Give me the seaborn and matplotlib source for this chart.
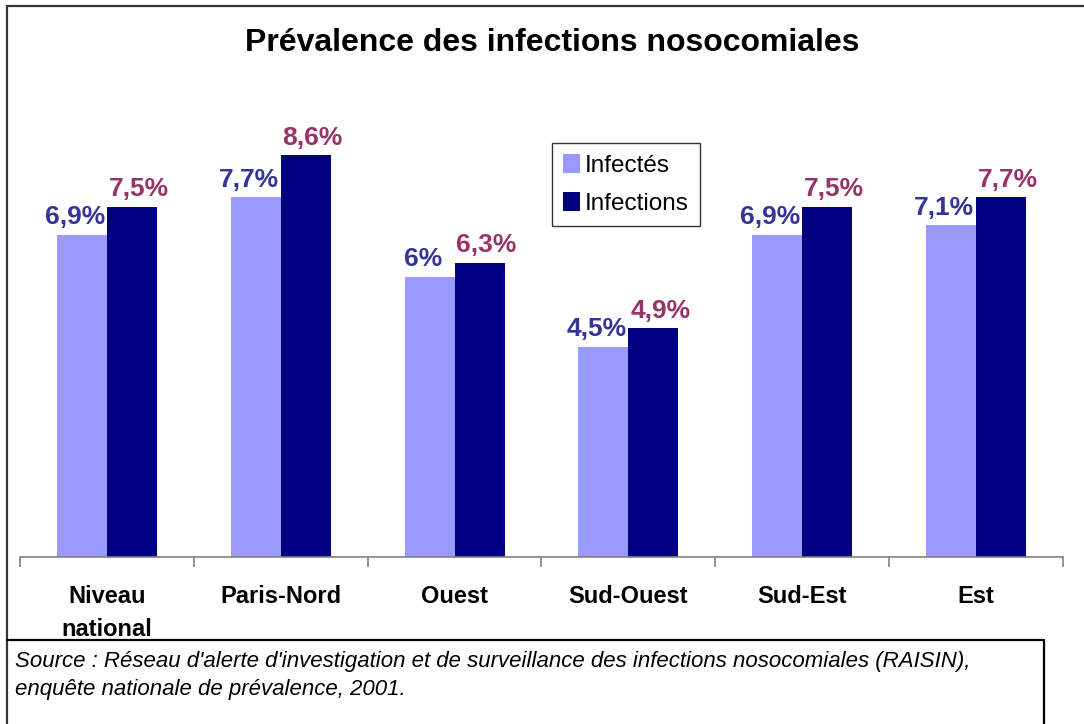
import pandas as pd
import seaborn as sns
import matplotlib.pyplot as plt
from matplotlib.lines import Line2D

regions = ["Niveau\nnational", "Paris-Nord", "Ouest", "Sud-Ouest", "Sud-Est", "Est"]
infectes = [6.9, 7.7, 6.0, 4.5, 6.9, 7.1]
infections = [7.5, 8.6, 6.3, 4.9, 7.5, 7.7]
series = ["Infectés", "Infections"]

bar_colors = {"Infectés": "#9999FF", "Infections": "#000080"}
label_colors = ["#333399", "#993366"]

df = pd.DataFrame({
    "region": regions * 2,
    "serie": [series[0]] * len(regions) + [series[1]] * len(regions),
    "valeur": infectes + infections,
})

sns.set_style("white")
plt.rcParams["font.family"] = ["Liberation Sans", "DejaVu Sans"]
plt.rcParams["text.color"] = "black"
plt.rcParams["xtick.color"] = "black"

fig = plt.figure(figsize=(10.84, 7.24), dpi=100)
ax = fig.add_axes([20 / 1084, 1 - 557 / 724, 1043 / 1084, 467 / 724])

sns.barplot(data=df, x="region", y="valeur", hue="serie", palette=bar_colors,
            width=0.575, gap=0, saturation=1, linewidth=0, ax=ax, legend=True)

ax.set_xlim(-0.5, len(regions) - 0.5)
ax.set_ylim(0, 10)
ax.set_xlabel("")
ax.set_ylabel("")
ax.set_yticks([])

for sp in ["top", "right", "left"]:
    ax.spines[sp].set_visible(False)
ax.spines["bottom"].set_color("#808080")
ax.spines["bottom"].set_linewidth(1.2)

# etiquettes des barres, un peu decalees vers l'exterieur
for cont, vals, col, dx in zip(ax.containers, [infectes, infections], label_colors, [-5, 5]):
    for bar, v in zip(cont, vals):
        lab = f"{v:g}".replace(".", ",") + "%"
        ax.annotate(lab, (bar.get_x() + bar.get_width() / 2, bar.get_height()),
                    xytext=(dx, 4), textcoords="offset points", ha="center", va="bottom",
                    color=col, fontsize=19, fontweight="bold")

ax.set_xticks(range(len(regions)))
ax.set_xticklabels(regions, fontsize=17, fontweight="bold", linespacing=1.55, va="top")
ax.set_xticks([i - 0.5 for i in range(len(regions) + 1)], minor=True)
ax.tick_params(axis="x", which="major", bottom=False, length=0, pad=20)
ax.tick_params(axis="x", which="minor", bottom=True, length=7, width=1.2, color="#808080", direction="out")

leg = ax.legend(loc="upper left", bbox_to_anchor=(552 / 1084, 1 - 143 / 724),
                bbox_transform=fig.transFigure, fontsize=17.5, frameon=True,
                fancybox=False, edgecolor="black", handlelength=0.7, handleheight=0.8,
                handletextpad=0.2, labelspacing=0.65, borderpad=0.45, borderaxespad=0)
leg.get_frame().set_linewidth(1.0)

fig.text(552 / 1084, 1 - 43 / 724, "Prévalence des infections nosocomiales",
         ha="center", va="center", fontsize=23, fontweight="bold")

fig.text(15 / 1084, 1 - 661 / 724,
         "Source : Réseau d'alerte d'investigation et de surveillance des infections nosocomiales (RAISIN),",
         ha="left", va="center", fontsize=16, style="italic")
fig.text(15 / 1084, 1 - 690 / 724, "enquête nationale de prévalence, 2001.",
         ha="left", va="center", fontsize=16, style="italic")

# cadres
def fig_line(x0, y0, x1, y1, color="#333333"):
    fig.add_artist(Line2D([x0 / 1084, x1 / 1084], [1 - y0 / 724, 1 - y1 / 724],
                          color=color, linewidth=1.6, transform=fig.transFigure))

fig_line(7, 6, 1084, 6)
fig_line(7, 6, 7, 724)
fig_line(7, 640, 1044, 640, color="black")
fig_line(1044, 640, 1044, 724, color="black")

fig.savefig("out.png", dpi=100)
